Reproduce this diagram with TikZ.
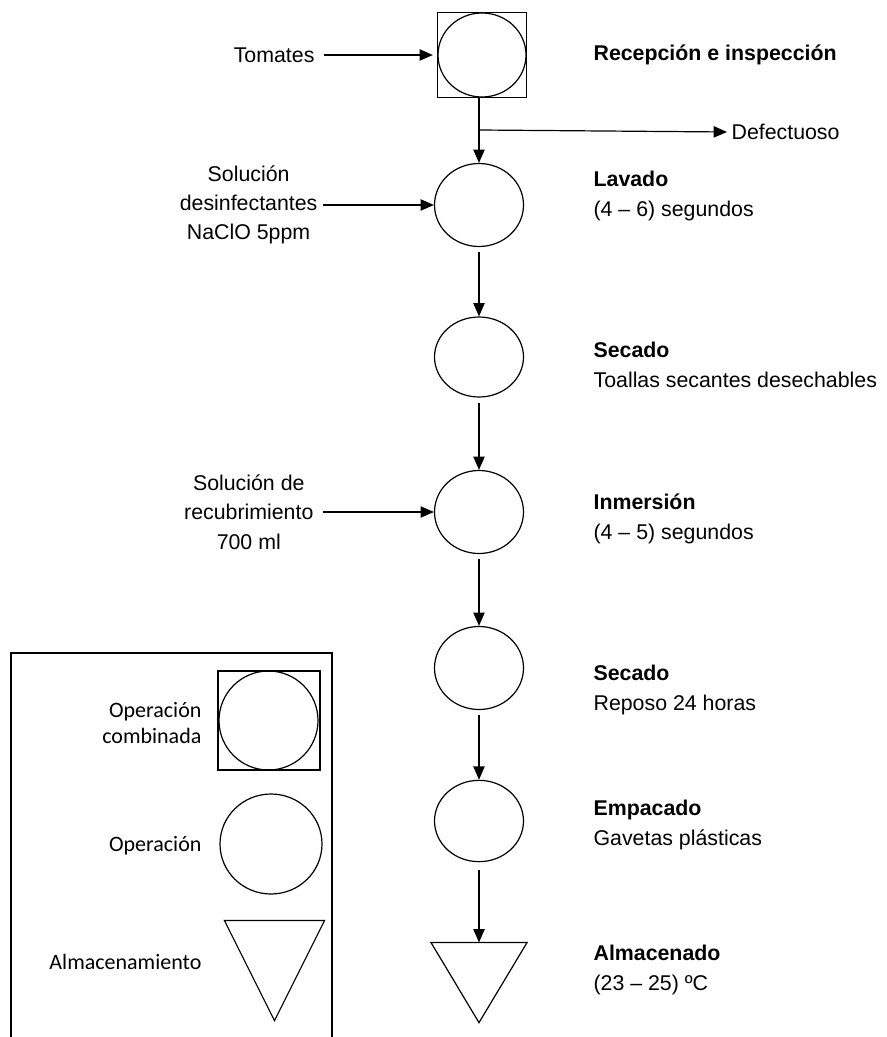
\documentclass[tikz,border=0pt]{standalone}
\usepackage{fontspec}
\setmainfont{Liberation Sans}
\newfontfamily\legendfont{Carlito}
\usetikzlibrary{arrows.meta,shapes}

\begin{document}
\begin{tikzpicture}[x=0.75pt,y=-0.75pt,line width=0.9pt,
  op/.style={draw,ellipse,inner sep=0pt,minimum width=66.75pt,minimum height=62.25pt},
  combo/.style={draw,rectangle,inner sep=0pt,minimum width=66.75pt,minimum height=63.75pt},
  store/.style={rectangle,inner sep=0pt,minimum width=71.25pt,minimum height=59.25pt},
  txt/.style={inner sep=0pt,font=\fontsize{16}{22}\selectfont},
  legtxt/.style={inner sep=0pt,align=right,anchor=east,font=\legendfont\fontsize{16.5}{20}\selectfont},
  flow/.style={-{Triangle[length=10pt,width=8.5pt]}}]

\useasboundingbox (0,0) rectangle (886,1037);

% flow chart
  \node[combo] (rec) at (482,55) {};
  \node[op,minimum width=66pt,minimum height=63pt] (reccirc) at (482,55) {};
  \node[op] (lav) at (479,205) {};
  \node[op,minimum height=60pt] (sec1) at (479,357) {};
  \node[op] (inm) at (479,512) {};
  \node[op] (sec2) at (479,668) {};
  \node[op,minimum height=61pt] (emp) at (479,821) {};
  \node[store] (alm) at (479,982.5) {};
  \draw (alm.north west) -- (alm.north east) -- (alm.south) -- cycle;

  \coordinate (split) at (479,130);
  \node[txt,anchor=west] (def) at (731,132) {Defectuoso};

  \draw[flow] (rec.south -| lav.north) -- (lav.north);
  \draw[flow] (split) -- ([xshift=-3pt]def.west);
  \draw[flow,shorten <=4pt] (lav) -- (sec1);
  \draw[flow,shorten <=4pt] (sec1) -- (inm);
  \draw[flow,shorten <=4pt] (inm) -- (sec2);
  \draw[flow,shorten <=4pt] (sec2) -- (emp);
  \draw[flow,shorten <=6pt] (emp) -- (alm.north);

% inputs
  \node[txt,anchor=east] (tom) at (315,55) {Tomates};
  \node[txt,anchor=east,align=center] (sol1) at (318,205) {Solución\\desinfectantes\\NaClO 5ppm};
  \node[txt,anchor=east,align=center] (sol2) at (314,512) {Solución de\\recubrimiento\\700 ml};

  \draw[flow,shorten <=7pt,shorten >=3pt] (tom.east) -- (rec.west);
  \draw[flow,shorten <=4pt] (sol1.east) -- (lav.west);
  \draw[flow,shorten <=7pt] (sol2.east) -- (inm.west);

% step names
  \node[txt,anchor=west] (lrec) at (593,55) {\textbf{Recepción e inspección}};
  \node[txt,anchor=west,align=left] (llav) at (593,196) {\textbf{Lavado}\\(4 – 6) segundos};
  \node[txt,anchor=west,align=left] (lsec1) at (593,365) {\textbf{Secado}\\Toallas secantes desechables};
  \node[txt,anchor=west,align=left] (linm) at (593,519) {\textbf{Inmersión}\\(4 – 5) segundos};
  \node[txt,anchor=west,align=left] (lsec2) at (593,690) {\textbf{Secado}\\Reposo 24 horas};
  \node[txt,anchor=west,align=left] (lemp) at (593,825) {\textbf{Empacado}\\Gavetas plásticas};
  \node[txt,anchor=west,align=left] (lalm) at (593,970) {\textbf{Almacenado}\\(23 – 25) ºC};

% legend
  \draw[line width=1.1pt] (11,1037) -- (11,653) -- (332,653) -- (332,1037);

  \node[combo,minimum width=76.5pt,minimum height=74.25pt] (kcombo) at (269,720.5) {};
  \node[op,minimum width=74.25pt,minimum height=74.25pt] (kcombocirc) at (268.5,720.5) {};
  \node[op,minimum width=76.5pt,minimum height=75pt] (kop) at (271,844) {};
  \node[store,minimum width=74.25pt,minimum height=74.25pt] (kstore) at (274.5,970.5) {};
  \draw (kstore.north west) -- (kstore.north east) -- (kstore.south) -- cycle;

  \node[legtxt] (kcombotxt) at (202,723) {Operación\\combinada};
  \node[legtxt] (koptxt) at (202,846) {Operación};
  \node[legtxt] (kstoretxt) at (202,962) {Almacenamiento};

\end{tikzpicture}
\end{document}
